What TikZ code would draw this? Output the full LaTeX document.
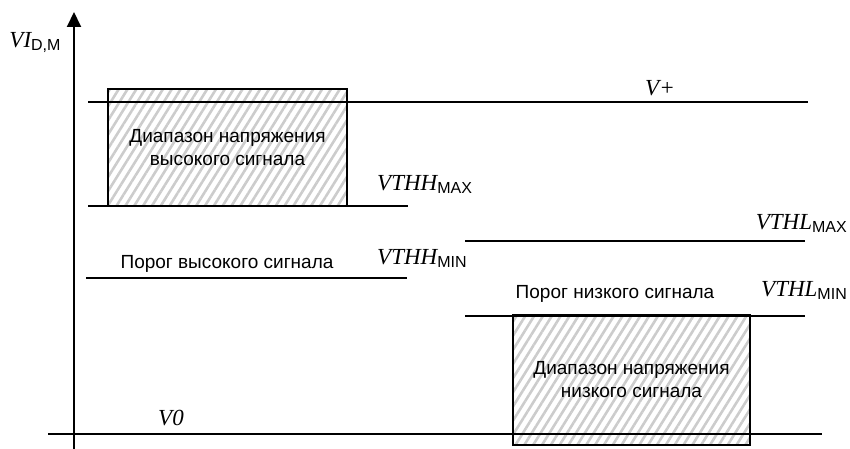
\documentclass[tikz,border=0pt]{standalone}
\usepackage{fontspec}
\setmainfont{Liberation Sans}
\newfontfamily\tnrfont{Liberation Serif}
\usetikzlibrary{positioning,patterns.meta,arrows.meta}

% symbol with sans subscript
\newcommand{\lvlsym}[2]{#1\raisebox{-3pt}{\normalfont\fontsize{16}{16}\selectfont #2}}

\tikzset{
	axis/.style={line width=2pt, -{Triangle[length=15pt,width=14pt]}},
	level/.style={line width=1.3pt},
	hatchbox/.style={draw,
		line width=1.3pt,
		pattern={Lines[angle=58,distance=7.5pt,line width=2.6pt]},
		pattern color=black!20,
		align=center,
		font=\fontsize{19}{23}\selectfont},
	txt/.style={font=\fontsize{19}{22}\selectfont, inner sep=0pt},
	sym/.style={font=\fontsize{23}{26}\selectfont\tnrfont\itshape, inner sep=0pt}
}

\begin{document}
\begin{tikzpicture}[x=1pt,y=-1pt]

\useasboundingbox (0,0) rectangle (850,449);

% Hatched ranges
\node [hatchbox,
	minimum width=239pt,
	minimum height=117pt
] (hibox) at (227.5,147.5) {Диапазон напряжения\\высокого сигнала};

\node [hatchbox,
	minimum width=237pt,
	minimum height=130pt
] (lobox) at (631.5,380) {Диапазон напряжения\\низкого сигнала};

% Axis
\coordinate (ybot) at (74,449);
\coordinate (ytop) at (74,12);
\draw[axis] (ybot) -- (ytop);

% Level lines
\coordinate (vp-l) at (88,102);
\coordinate (vp-r) at (808,102);
\coordinate (hhmax-l) at (88,206);
\coordinate (hhmax-r) at (408,206);
\coordinate (hlmax-l) at (465,241);
\coordinate (hlmax-r) at (805,241);
\coordinate (hhmin-l) at (86,278);
\coordinate (hhmin-r) at (407,278);
\coordinate (hlmin-l) at (465,316);
\coordinate (hlmin-r) at (805,316);
\coordinate (v0-l) at (48,434);
\coordinate (v0-r) at (822,434);

\draw[level] (vp-l) -- (vp-r);
\draw[level] (hhmax-l) -- (hhmax-r);
\draw[level] (hlmax-l) -- (hlmax-r);
\draw[level] (hhmin-l) -- (hhmin-r);
\draw[level] (hlmin-l) -- (hlmin-r);
\draw[level] (v0-l) -- (v0-r);

% Labels
\node[sym] (ylabel) at (35,42) {\lvlsym{VI}{D,M}};
\node[sym] (vplus) at (660,88) {V+};
\node[sym, anchor=west] (vthhmax) at (377,184) {\lvlsym{VTHH}{MAX}};
\node[sym, anchor=east] (vthlmax) at (847,223) {\lvlsym{VTHL}{MAX}};
\node[sym, anchor=west] (vthhmin) at (377,258) {\lvlsym{VTHH}{MIN}};
\node[sym, anchor=east] (vthlmin) at (847,290) {\lvlsym{VTHL}{MIN}};
\node[sym] (vzero) at (171,418) {V0};

\node[txt] (hithr) at (227,264) {Порог высокого сигнала};
\node[txt] (lothr) at (615,294) {Порог низкого сигнала};

\end{tikzpicture}
\end{document}
